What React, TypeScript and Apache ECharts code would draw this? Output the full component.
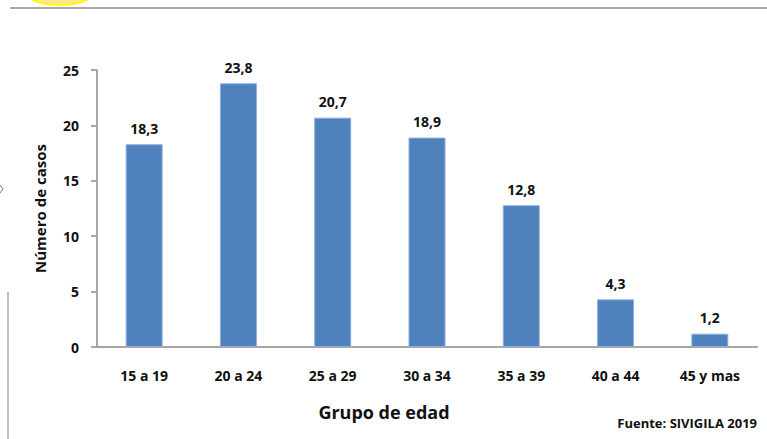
import React, { useEffect, useRef } from "react";
import * as echarts from "echarts";

const categories = ["15 a 19", "20 a 24", "25 a 29", "30 a 34", "35 a 39", "40 a 44", "45 y mas"];
const values = [18.3, 23.8, 20.7, 18.9, 12.8, 4.3, 1.2];
const yTicks = { min: 0, max: 25, interval: 5 };
const xTitle = "Grupo de edad";
const yTitle = "Número de casos";
const source = "Fuente: SIVIGILA 2019";

const FONT = "'Open Sans', sans-serif";

export default function App() {
  const ref = useRef<HTMLDivElement>(null);
  useEffect(() => {
    if (!ref.current) return;
    const chart = echarts.init(ref.current, undefined, { renderer: "svg" });
    chart.setOption({
      animation: false,
      backgroundColor: "#ffffff",
      grid: { left: 97, right: 10, top: 70, bottom: 92, containLabel: false },
      xAxis: {
        type: "category",
        data: categories,
        axisLine: { lineStyle: { color: "#a6a6a6", width: 2 } },
        axisTick: { show: false },
        axisLabel: { color: "#111", fontFamily: FONT, fontWeight: "bold", fontSize: 14, margin: 21 },
      },
      yAxis: {
        type: "value",
        min: yTicks.min,
        max: yTicks.max,
        interval: yTicks.interval,
        axisLine: { show: true, lineStyle: { color: "#a6a6a6", width: 2 } },
        axisTick: { show: true, length: 6, lineStyle: { color: "#a6a6a6", width: 2 } },
        splitLine: { show: false },
        axisLabel: { color: "#111", fontFamily: FONT, fontWeight: "bold", fontSize: 14, margin: 18 },
        name: yTitle,
        nameLocation: "middle",
        nameGap: 50,
        nameTextStyle: { color: "#111", fontFamily: FONT, fontWeight: "bold", fontSize: 15 },
      },
      series: [
        {
          type: "bar",
          data: values,
          barWidth: 37,
          itemStyle: { color: "#4f81bd", borderColor: "#8fb0dc", borderWidth: 1 },
          label: {
            show: true,
            position: "top",
            distance: 9,
            color: "#111",
            fontFamily: FONT,
            fontWeight: "bold",
            fontSize: 14,
            formatter: (p: any) => String(p.value).replace(".", ","),
          },
        },
      ],
      graphic: [
        { type: "line", shape: { x1: 10, y1: 8, x2: 767, y2: 8 }, style: { stroke: "#a9a9a9", lineWidth: 2 } },
        { type: "ellipse", shape: { cx: 60, cy: -4, rx: 30, ry: 9 }, style: { fill: "#ffe98a", stroke: "#ffff00", lineWidth: 2 } },
        { type: "line", shape: { x1: 8, y1: 292, x2: 8, y2: 439 }, style: { stroke: "#808080", lineWidth: 1 } },
        { type: "polyline", shape: { points: [[0, 185], [3, 189], [0, 193]] }, style: { stroke: "#777", lineWidth: 1, fill: "none" } },
        {
          type: "text",
          x: 384,
          y: 412,
          style: { text: xTitle, fill: "#111", font: `bold 18px ${FONT}`, textAlign: "center", textVerticalAlign: "middle" },
        },
        {
          type: "text",
          x: 757,
          y: 423,
          style: { text: source, fill: "#111", font: `bold 13px ${FONT}`, textAlign: "right", textVerticalAlign: "middle" },
        },
      ],
    });
    return () => chart.dispose();
  }, []);
  return <div ref={ref} style={{ width: 767, height: 439, position: "absolute", left: 0, top: 0 }} />;
}
